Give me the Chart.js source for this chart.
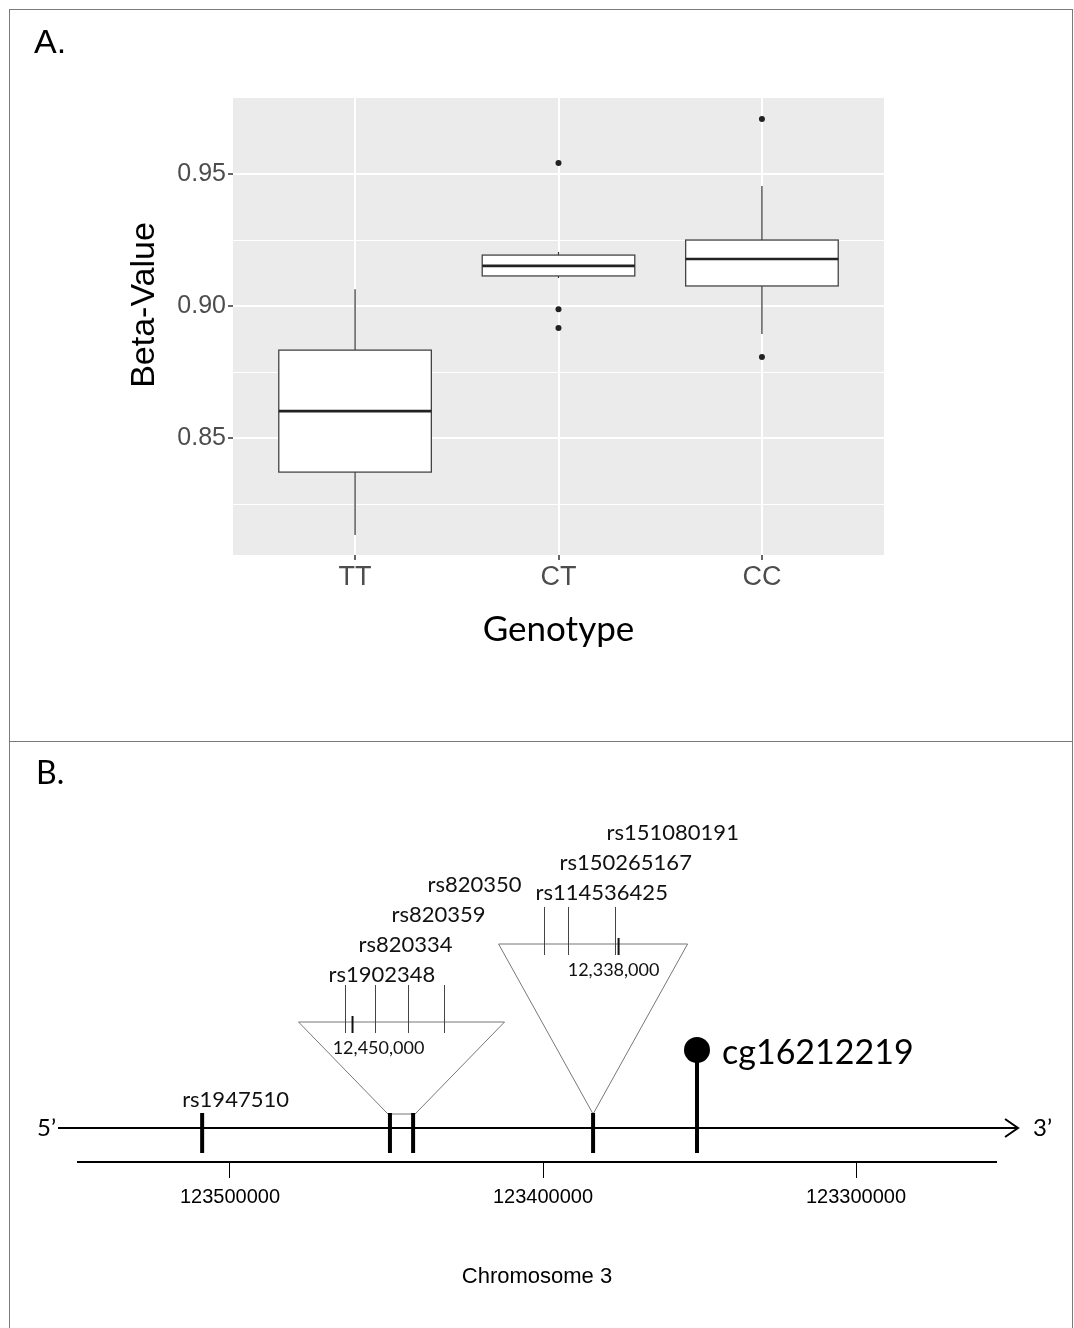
<!DOCTYPE html>
<html>
<head>
<meta charset="utf-8">
<script src="https://cdn.jsdelivr.net/npm/chart.js@4.4.1/dist/chart.umd.min.js"></script>
<style>
  html, body { margin: 0; padding: 0; background: #fff; }
  #page { position: relative; width: 1074px; height: 1328px; overflow: hidden; }
  canvas { position: absolute; left: 0; }
  #chartA { top: 0; }
  #chartB { top: 742px; }
  .frame { position: absolute; left: 9px; top: 9px; width: 1062px; height: 1340px;
           border-left: 1px solid #7a7a7a; border-top: 1px solid #7a7a7a; border-right: 1px solid #7a7a7a; }
  .divider { position: absolute; left: 9px; top: 741px; width: 1064px; height: 1px; background: #7a7a7a; }
</style>
</head>
<body>
<div id="page">
  <canvas id="chartA" width="1074" height="740"></canvas>
  <canvas id="chartB" width="1074" height="586"></canvas>
  <div class="frame"></div>
  <div class="divider"></div>
</div>
<script>
// ---- panel A: beta-value by genotype ----
const genotypes = ['TT', 'CT', 'CC'];
const whiskerLow = [0.8133, 0.9106, 0.8894];
const q1 = [0.8371, 0.9114, 0.9076];
const median = [0.8602, 0.9152, 0.9178];
const q3 = [0.8833, 0.9193, 0.9250];
const whiskerHigh = [0.9064, 0.9205, 0.9455];
const outliersTT = [];
const outliersCT = [0.9542, 0.8988, 0.8917];
const outliersCC = [0.9708, 0.8807];
const yMajorTicks = [0.85, 0.90, 0.95];
const yMinorTicks = [0.825, 0.875, 0.925];
const yMin = 0.8057;
const yMax = 0.9788;

// ---- panel B: chromosome 3 region ----
const axisTicks = [123500000, 123400000, 123300000];
const axisMin = 123255272;
const axisMax = 123548562;
const chromStart = 123554950;
const chromEnd = 123248240;
const markerPos = [123508900, 123448900, 123441500, 123384000];
const markerNames = ['rs1947510', '', '', ''];
const cpgPos = 123350800;
const cpgName = 'cg16212219';

const insetLeftSnps = ['rs1902348', 'rs820334', 'rs820359', 'rs820350'];
const insetLeftPos = [123450800, 123447800, 123444500, 123440900];
const insetLeftRange = [123455400, 123434800];
const insetLeftMark = 123450000;
const insetLeftMarkLabel = '12,450,000';
const insetLeftMarkers = [1, 2];

const insetRightSnps = ['rs114536425', 'rs150265167', 'rs151080191'];
const insetRightPos = [123387500, 123385100, 123380400];
const insetRightRange = [123392000, 123373100];
const insetRightMark = 123380000;
const insetRightMarkLabel = '12,338,000';
const insetRightMarkers = [3];

const isMajor = v => yMajorTicks.some(t => Math.abs(t - v) < 1e-9);

const boxPlugin = {
  id: 'boxes',
  beforeDraw(chart) {
    const {ctx, chartArea: a} = chart;
    ctx.save();
    ctx.fillStyle = '#ebebeb';
    ctx.fillRect(a.left, a.top, a.right - a.left, a.bottom - a.top);
    ctx.fillStyle = '#000';
    ctx.font = '34px "Liberation Sans"';
    ctx.textBaseline = 'alphabetic';
    ctx.fillText('A.', 34, 53);
    // y axis title
    ctx.translate(145, 305);
    ctx.rotate(-Math.PI / 2);
    ctx.font = '34px "Liberation Sans"';
    ctx.textAlign = 'center';
    ctx.textBaseline = 'middle';
    ctx.fillText('Beta-Value', 0, 0);
    ctx.restore();
  },
  beforeDatasetsDraw(chart) {
    const {ctx, scales: {x, y}} = chart;
    ctx.save();
    genotypes.forEach((g, i) => {
      const cx = x.getPixelForValue(i + 1);
      const x0 = x.getPixelForValue(i + 1 - 0.375);
      const x1 = x.getPixelForValue(i + 1 + 0.375);
      ctx.strokeStyle = '#333';
      ctx.lineWidth = 1.2;
      ctx.beginPath();
      ctx.moveTo(cx, y.getPixelForValue(q3[i]));
      ctx.lineTo(cx, y.getPixelForValue(whiskerHigh[i]));
      ctx.moveTo(cx, y.getPixelForValue(q1[i]));
      ctx.lineTo(cx, y.getPixelForValue(whiskerLow[i]));
      ctx.stroke();
      const top = y.getPixelForValue(q3[i]);
      const bot = y.getPixelForValue(q1[i]);
      ctx.fillStyle = '#fff';
      ctx.fillRect(x0, top, x1 - x0, bot - top);
      ctx.strokeStyle = '#444';
      ctx.lineWidth = 1.3;
      ctx.strokeRect(x0, top, x1 - x0, bot - top);
      ctx.strokeStyle = '#222';
      ctx.lineWidth = 2.6;
      ctx.beginPath();
      ctx.moveTo(x0, y.getPixelForValue(median[i]));
      ctx.lineTo(x1, y.getPixelForValue(median[i]));
      ctx.stroke();
    });
    ctx.restore();
  }
};

const outlierData = []
  .concat(outliersTT.map(v => ({x: 1, y: v})))
  .concat(outliersCT.map(v => ({x: 2, y: v})))
  .concat(outliersCC.map(v => ({x: 3, y: v})));

new Chart(document.getElementById('chartA'), {
  type: 'scatter',
  data: {
    datasets: [{
      data: outlierData,
      pointRadius: 3,
      pointBackgroundColor: '#222',
      pointBorderWidth: 0
    }]
  },
  options: {
    responsive: false,
    animation: false,
    layout: { padding: { left: 120, top: 98, right: 190, bottom: 0 } },
    plugins: { legend: { display: false }, tooltip: { enabled: false } },
    scales: {
      x: {
        type: 'linear',
        min: 0.4,
        max: 3.6,
        afterBuildTicks: s => { s.ticks = genotypes.map((g, i) => ({value: i + 1})); },
        afterFit: s => { s.height = 185; },
        ticks: {
          callback: v => genotypes[Math.round(v) - 1],
          color: '#4d4d4d',
          font: { family: 'Liberation Sans', size: 27 },
          padding: 1,
          autoSkip: false,
          maxRotation: 0
        },
        grid: { color: '#fff', lineWidth: 2, tickLength: 5, tickColor: '#666' },
        border: { display: false },
        title: {
          display: true,
          text: 'Genotype',
          color: '#000',
          font: { family: 'Lato', size: 35 },
          padding: { top: 0, bottom: 89 }
        }
      },
      y: {
        min: yMin,
        max: yMax,
        afterBuildTicks: s => { s.ticks = yMinorTicks.concat(yMajorTicks).sort().map(v => ({value: v})); },
        afterFit: s => { s.width = 233 - 120; },
        ticks: {
          callback: v => isMajor(v) ? v.toFixed(2) : '',
          color: '#4d4d4d',
          font: { family: 'Liberation Sans', size: 25 },
          padding: 2,
          autoSkip: false
        },
        grid: {
          color: '#fff',
          lineWidth: c => isMajor(c.tick.value) ? 2 : 1,
          tickLength: 5,
          tickColor: c => isMajor(c.tick.value) ? '#666' : 'rgba(0,0,0,0)'
        },
        border: { display: false }
      }
    }
  },
  plugins: [boxPlugin]
});

function drawInset(ctx, x, chromY, cfg) {
  const mx = cfg.markers.map(i => x.getPixelForValue(markerPos[i]));
  const cx = (mx[0] + mx[mx.length - 1]) / 2;
  const top = chromY - cfg.rise;
  const left = cx - cfg.width / 2;
  const toPx = v => left + (cfg.range[0] - v) / (cfg.range[0] - cfg.range[1]) * cfg.width;
  const baseY = chromY - 14;

  ctx.strokeStyle = '#777';
  ctx.lineWidth = 1;
  ctx.beginPath();
  ctx.moveTo(left, top);
  ctx.lineTo(left + cfg.width, top);
  ctx.lineTo(mx[mx.length - 1] + (mx.length > 1 ? 2 : 0), baseY);
  if (mx.length > 1) ctx.lineTo(mx[0] - 2, baseY);
  ctx.closePath();
  ctx.stroke();

  ctx.strokeStyle = '#444';
  ctx.lineWidth = 1;
  cfg.pos.forEach(p => {
    const px = Math.round(toPx(p)) + 0.5;
    ctx.beginPath();
    ctx.moveTo(px, top - 37);
    ctx.lineTo(px, top + 11);
    ctx.stroke();
  });
  const mkx = toPx(cfg.mark);
  ctx.strokeStyle = '#111';
  ctx.lineWidth = 2;
  ctx.beginPath();
  ctx.moveTo(mkx, top - 6);
  ctx.lineTo(mkx, top + 11);
  ctx.stroke();

  ctx.fillStyle = '#111';
  ctx.font = '18px Lato';
  ctx.textAlign = 'center';
  ctx.textBaseline = 'middle';
  ctx.fillText(cfg.markLabel, mkx + cfg.markDx, top + 26);

  ctx.font = '22px Lato';
  ctx.textAlign = 'left';
  cfg.names.forEach((n, i) => {
    ctx.fillText(n, toPx(cfg.pos[i]) + cfg.labelDx, top - cfg.labelDy - i * 30);
  });
}

const genomePlugin = {
  id: 'genome',
  afterDraw(chart) {
    const {ctx, chartArea: a, scales: {x}} = chart;
    const chromY = a.bottom - 34;
    ctx.save();

    ctx.fillStyle = '#000';
    ctx.font = '32px Lato';
    ctx.textBaseline = 'alphabetic';
    ctx.fillText('B.', 36, 42);

    // chromosome line with open arrow
    const xs = x.getPixelForValue(chromStart);
    const xe = x.getPixelForValue(chromEnd);
    ctx.strokeStyle = '#000';
    ctx.lineWidth = 2;
    ctx.beginPath();
    ctx.moveTo(xs, chromY);
    ctx.lineTo(xe, chromY);
    ctx.moveTo(xe - 13, chromY - 9);
    ctx.lineTo(xe, chromY);
    ctx.lineTo(xe - 13, chromY + 9);
    ctx.stroke();

    ctx.font = '24px Lato';
    ctx.textBaseline = 'middle';
    ctx.textAlign = 'right';
    ctx.fillText('5\u2019', xs - 2, chromY);
    ctx.textAlign = 'left';
    ctx.fillText('3\u2019', xe + 15, chromY);

    drawInset(ctx, x, chromY, {
      markers: insetLeftMarkers, pos: insetLeftPos, names: insetLeftSnps, range: insetLeftRange,
      mark: insetLeftMark, markLabel: insetLeftMarkLabel,
      width: 206, rise: 106, labelDx: -16, labelDy: 47, markDx: 26
    });
    drawInset(ctx, x, chromY, {
      markers: insetRightMarkers, pos: insetRightPos, names: insetRightSnps, range: insetRightRange,
      mark: insetRightMark, markLabel: insetRightMarkLabel,
      width: 189, rise: 184, labelDx: -8, labelDy: 51, markDx: -5
    });

    // SNP markers
    ctx.strokeStyle = '#000';
    ctx.lineWidth = 4;
    markerPos.forEach((p, i) => {
      const px = x.getPixelForValue(p);
      ctx.beginPath();
      ctx.moveTo(px, chromY - 15);
      ctx.lineTo(px, chromY + 25);
      ctx.stroke();
      if (markerNames[i]) {
        ctx.fillStyle = '#111';
        ctx.font = '22px Lato';
        ctx.textAlign = 'left';
        ctx.textBaseline = 'middle';
        ctx.fillText(markerNames[i], px - 20, chromY - 28);
      }
    });

    // CpG lollipop
    const cx = x.getPixelForValue(cpgPos);
    ctx.beginPath();
    ctx.moveTo(cx, chromY + 25);
    ctx.lineTo(cx, chromY - 78);
    ctx.stroke();
    ctx.fillStyle = '#000';
    ctx.beginPath();
    ctx.arc(cx, chromY - 78, 13, 0, Math.PI * 2);
    ctx.fill();
    ctx.font = '34px Lato';
    ctx.textAlign = 'left';
    ctx.textBaseline = 'middle';
    ctx.fillText(cpgName, cx + 25, chromY - 75);

    ctx.restore();
  }
};

new Chart(document.getElementById('chartB'), {
  type: 'scatter',
  data: { datasets: [] },
  options: {
    responsive: false,
    animation: false,
    layout: { padding: { left: 78, right: 78, top: 10, bottom: 0 } },
    plugins: { legend: { display: false }, tooltip: { enabled: false } },
    scales: {
      x: {
        type: 'linear',
        reverse: true,
        min: axisMin,
        max: axisMax,
        afterBuildTicks: s => { s.ticks = axisTicks.map(v => ({value: v})); },
        afterFit: s => { s.height = 166; },
        ticks: {
          callback: v => String(v),
          color: '#000',
          font: { family: 'Liberation Sans', size: 20 },
          padding: 7,
          autoSkip: false,
          maxRotation: 0
        },
        grid: { drawOnChartArea: false, tickLength: 16, tickColor: '#000', tickWidth: 1 },
        border: { color: '#000', width: 2 },
        title: {
          display: true,
          text: 'Chromosome 3',
          color: '#000',
          font: { family: 'Liberation Sans', size: 22 },
          padding: { top: 0, bottom: 38 }
        }
      },
      y: { display: false, min: 0, max: 1 }
    }
  },
  plugins: [genomePlugin]
});
</script>
</body>
</html>
